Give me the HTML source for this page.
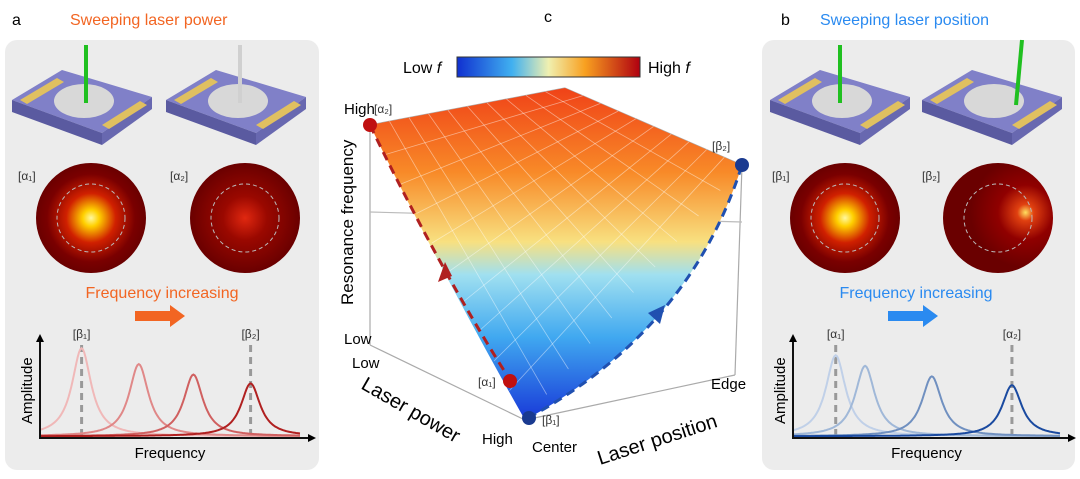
<!DOCTYPE html>
<html><head><meta charset="utf-8">
<style>
body{margin:0;width:1080px;height:479px;background:#fff;font-family:"Liberation Sans",sans-serif;overflow:hidden}
svg{position:absolute;left:0;top:0}
</style></head>
<body>
<svg width="1080" height="479" viewBox="0 0 1080 479">
<defs>
<radialGradient id="hot1"><stop offset="0" stop-color="#fff8a0"/><stop offset="0.15" stop-color="#ffd000"/><stop offset="0.45" stop-color="#d02000"/><stop offset="0.8" stop-color="#7a0000"/><stop offset="1" stop-color="#6a0000"/></radialGradient>
<radialGradient id="hot2"><stop offset="0" stop-color="#e02810"/><stop offset="0.4" stop-color="#9a0800"/><stop offset="1" stop-color="#6a0000"/></radialGradient>
<radialGradient id="hot3" cx="0.75" cy="0.45" r="0.5"><stop offset="0" stop-color="#ffe060"/><stop offset="0.15" stop-color="#e04010"/><stop offset="0.5" stop-color="#900000"/><stop offset="1" stop-color="#6a0000"/></radialGradient>
<linearGradient id="cbar" x1="0" x2="1"><stop offset="0" stop-color="#1030d0"/><stop offset="0.3" stop-color="#40b0f0"/><stop offset="0.5" stop-color="#f0f0b0"/><stop offset="0.7" stop-color="#f8a020"/><stop offset="1" stop-color="#b00010"/></linearGradient>
<linearGradient id="surf" x1="0" y1="90" x2="0" y2="420" gradientUnits="userSpaceOnUse"><stop offset="0" stop-color="#f04418"/><stop offset="0.25" stop-color="#f88a28"/><stop offset="0.46" stop-color="#f8e080"/><stop offset="0.56" stop-color="#a0e0f0"/><stop offset="0.75" stop-color="#40a8f0"/><stop offset="1" stop-color="#1838d8"/></linearGradient>
<g id="device">
<polygon points="0,55 50,25 140,52 90,88" fill="#8080c8"/>
<polygon points="0,55 90,88 90,100 0,67" fill="#5a5aa0"/>
<polygon points="90,88 140,52 140,64 90,100" fill="#6868b0"/>
<ellipse cx="72" cy="56" rx="30" ry="17" fill="#d8d8d8"/>
<polygon points="8,55 45,33 52,37 15,59" fill="#e0c060"/>
<polygon points="90,80 128,56 135,60 97,84" fill="#e0c060"/>
</g>
</defs>
<rect x="5" y="40" width="314" height="430" rx="12" fill="#ececec"/>
<text x="12" y="25" font-size="16">a</text>
<text x="70" y="25" font-size="16" fill="#f26522">Sweeping laser power</text>
<use href="#device" x="12" y="45"/>
<line x1="86" y1="45" x2="86" y2="103" stroke="#20c020" stroke-width="4"/>
<use href="#device" x="166" y="45"/>
<line x1="240" y1="45" x2="240" y2="103" stroke="#d0d0d0" stroke-width="4"/>
<text x="18" y="180" font-size="12" fill="#333">[α₁]</text>
<text x="170" y="180" font-size="12" fill="#333">[α₂]</text>
<circle cx="91" cy="218" r="55" fill="url(#hot1)"/>
<circle cx="91" cy="218" r="34" fill="none" stroke="#bbb" stroke-dasharray="4,3"/>
<circle cx="245" cy="218" r="55" fill="url(#hot2)"/>
<circle cx="245" cy="218" r="34" fill="none" stroke="#bbb" stroke-dasharray="4,3"/>
<text x="162" y="298" font-size="16" fill="#f26522" text-anchor="middle">Frequency increasing</text>
<polygon points="135,311 170,311 170,305 185,316 170,327 170,321 135,321" fill="#f26522"/>
<rect x="762" y="40" width="313" height="430" rx="12" fill="#ececec"/>
<text x="781" y="25" font-size="16">b</text>
<text x="820" y="25" font-size="16" fill="#2a8af0">Sweeping laser position</text>
<use href="#device" x="770" y="45"/>
<line x1="840" y1="45" x2="840" y2="103" stroke="#20c020" stroke-width="4"/>
<use href="#device" x="922" y="45"/>
<line x1="1022" y1="40" x2="1016" y2="105" stroke="#20c020" stroke-width="4"/>
<text x="772" y="180" font-size="12" fill="#333">[β₁]</text>
<text x="922" y="180" font-size="12" fill="#333">[β₂]</text>
<circle cx="845" cy="218" r="55" fill="url(#hot1)"/>
<circle cx="845" cy="218" r="34" fill="none" stroke="#bbb" stroke-dasharray="4,3"/>
<circle cx="998" cy="218" r="55" fill="url(#hot3)"/>
<circle cx="998" cy="218" r="34" fill="none" stroke="#bbb" stroke-dasharray="4,3"/>
<text x="916" y="298" font-size="16" fill="#2a8af0" text-anchor="middle">Frequency increasing</text>
<polygon points="888,311 923,311 923,305 938,316 923,327 923,321 888,321" fill="#2a8af0"/>
<text x="548" y="22" font-size="16" text-anchor="middle">c</text>
<rect x="457" y="57" width="183" height="20" fill="url(#cbar)" stroke="#333"/>
<text x="403" y="73" font-size="16">Low <tspan font-style="italic">f</tspan></text>
<text x="648" y="73" font-size="16">High <tspan font-style="italic">f</tspan></text>
<g stroke="#aaa" stroke-width="1.2" fill="none">
<line x1="370" y1="125" x2="370" y2="345"/>
<line x1="370" y1="125" x2="565" y2="88"/>
<line x1="565" y1="88" x2="742" y2="165"/>
<line x1="742" y1="165" x2="735" y2="375"/>
<line x1="370" y1="345" x2="525" y2="420"/>
<line x1="525" y1="420" x2="735" y2="375"/>
<line x1="370" y1="212" x2="742" y2="222" stroke="#bbb"/>
</g>
<path d="M370,125 L565,88 L742,165 Q690,330 525,420 Q440,270 370,125 Z" fill="url(#surf)"/>
<g id="grid" stroke="#fff" stroke-opacity="0.45" stroke-width="0.8" fill="none"></g>
<path d="M370,125 Q440,270 510,380" stroke="#b02020" stroke-width="3" stroke-dasharray="9,6" fill="none"/>
<path d="M528,418 Q690,330 742,165" stroke="#2050b0" stroke-width="3" stroke-dasharray="9,6" fill="none"/>
<polygon points="445,262 438,282 452,276" fill="#b02020"/>
<polygon points="665,305 648,313 660,324" fill="#2050b0"/>
<circle cx="370" cy="125" r="7" fill="#c01010"/><circle cx="742" cy="165" r="7" fill="#1a3a90"/>
<circle cx="510" cy="381" r="7" fill="#c01010"/><circle cx="529" cy="418" r="7" fill="#1a3a90"/>
<text x="374" y="113" font-size="12" fill="#333">[α₂]</text>
<text x="712" y="150" font-size="12" fill="#333">[β₂]</text>
<text x="478" y="386" font-size="12" fill="#333">[α₁]</text>
<text x="542" y="424" font-size="12" fill="#333">[β₁]</text>
<text x="344" y="114" font-size="15">High</text>
<text x="344" y="344" font-size="15">Low</text>
<text x="352" y="368" font-size="15">Low</text>
<text x="482" y="444" font-size="15">High</text>
<text x="532" y="452" font-size="15">Center</text>
<text x="711" y="389" font-size="15">Edge</text>
<text x="353" y="305" font-size="17" transform="rotate(-90 353 305)">Resonance frequency</text>
<text x="360" y="388" font-size="20" transform="rotate(30 360 388)">Laser power</text>
<text x="600" y="465" font-size="20" transform="rotate(-18 600 465)">Laser position</text>
<g id="chartA"></g>
<g id="chartB"></g>
</svg>
<script>
const peakFreqA=[0.16,0.38,0.59,0.81];
const peakAmpA=[1.0,0.82,0.70,0.60];
const peakFreqB=[0.16,0.27,0.52,0.82];
const peakAmpB=[0.92,0.80,0.68,0.58];
const markersA=[{label:'[β₁]',f:0.16},{label:'[β₂]',f:0.81}];
const markersB=[{label:'[α₁]',f:0.16},{label:'[α₂]',f:0.82}];
const ns='http://www.w3.org/2000/svg';
function mk(t,a,p){const e=document.createElementNS(ns,t);for(const k in a)e.setAttribute(k,a[k]);p.appendChild(e);return e;}
function chart(gid,x0,x1,y0,y1,freqs,amps,colors,markers,name){
 const g=document.getElementById(gid);
 const sx=f=>x0+f*(x1-x0), sy=a=>y0-a*(y0-y1);
 markers.forEach(m=>{const l=mk('line',{x1:sx(m.f),x2:sx(m.f),y1:y1-5,y2:y0,stroke:'#999','stroke-width':3,'stroke-dasharray':'7,5'},g);
  
  
  const t=mk('text',{x:sx(m.f),y:y1-12,'font-size':12,'text-anchor':'middle',fill:'#333'},g);t.textContent=m.label;});
 freqs.forEach((f0,i)=>{let d='';for(let k=0;k<=200;k++){const f=k/200,gm=0.045;const a=amps[i]*gm*gm/((f-f0)*(f-f0)+gm*gm);d+=(k?'L':'M')+sx(f).toFixed(1)+','+sy(a+0.02).toFixed(1);}
  const p=mk('path',{d:d,fill:'none',stroke:colors[i],'stroke-width':2},g);
  
  });
 mk('path',{d:`M${x0},${y1-10} L${x0},${y0} L${x1+10},${y0}`,fill:'none',stroke:'#111','stroke-width':2},g);
 mk('polygon',{points:`${x0-4},${y1-8} ${x0+4},${y1-8} ${x0},${y1-16}`},g);
 mk('polygon',{points:`${x1+8},${y0-4} ${x1+8},${y0+4} ${x1+16},${y0}`},g);
 const xt=mk('text',{x:(x0+x1)/2,y:y0+20,'font-size':15,'text-anchor':'middle'},g);xt.textContent='Frequency';
 
 const yt=mk('text',{x:x0-8,y:(y0+y1)/2+30,'font-size':15,transform:`rotate(-90 ${x0-8} ${(y0+y1)/2+30})`},g);yt.textContent='Amplitude';
 
}
chart('chartA',40,300,438,350,peakFreqA,peakAmpA,['#f0b8b8','#e08888','#d06060','#b02020'],markersA,'chart-a');
chart('chartB',793,1060,438,350,peakFreqB,peakAmpB,['#c0d0e8','#a0b8d8','#7090c0','#1a4aa0'],markersB,'chart-b');
const grid=document.getElementById('grid');
for(let i=1;i<10;i++){const t=i/10;
 mk('line',{x1:565+(742-565)*t,y1:88+(165-88)*t,x2:370+(525-370)*t,y2:125+(420-125)*t},grid);
 mk('line',{x1:370+(565-370)*t,y1:125+(88-125)*t,x2:525+(742-525)*t,y2:420+(165-420)*t},grid);
}
</script>
</body></html>
